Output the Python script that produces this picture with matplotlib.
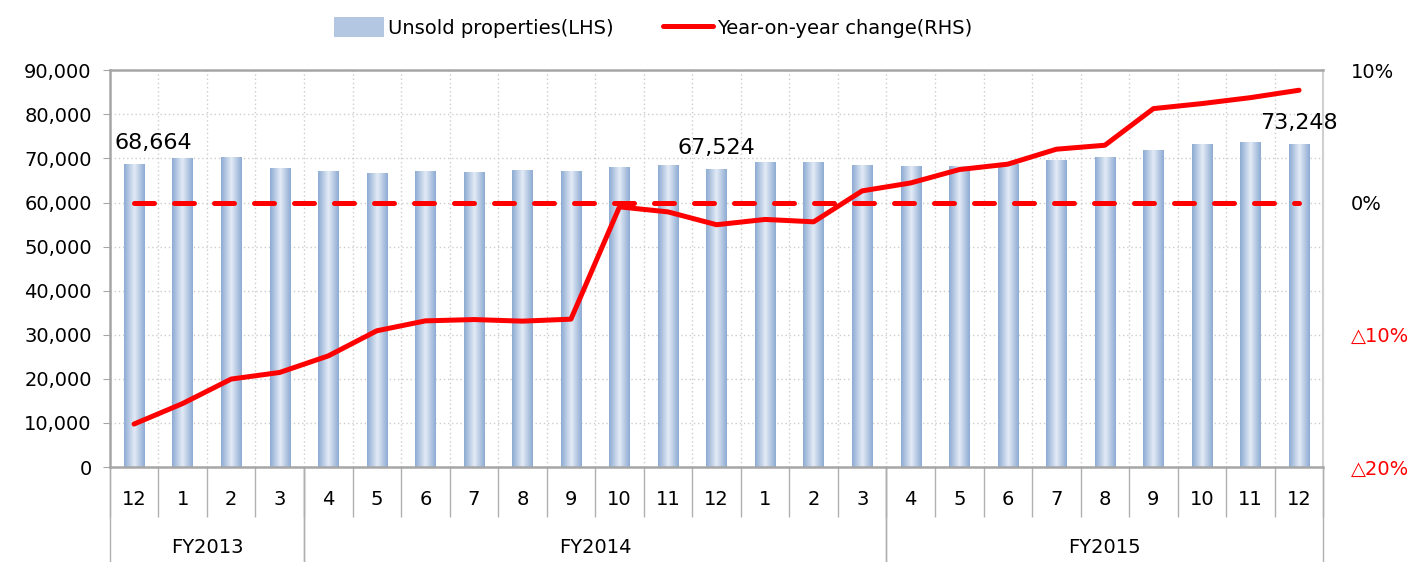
import numpy as np
import matplotlib

matplotlib.use("Agg")
import matplotlib.pyplot as plt
from matplotlib.colors import LinearSegmentedColormap
from matplotlib.lines import Line2D
from matplotlib.patches import Patch
from matplotlib.ticker import FuncFormatter
from matplotlib.transforms import blended_transform_factory

# month labels along the bottom, fiscal-year groups (label, first idx, end idx)
months = ["12", "1", "2", "3", "4", "5", "6", "7", "8", "9", "10", "11", "12",
          "1", "2", "3", "4", "5", "6", "7", "8", "9", "10", "11", "12"]
groups = [("FY2013", 0, 4), ("FY2014", 4, 16), ("FY2015", 16, 25)]

# unsold properties (LHS) and year-on-year change in % (RHS)
units = [68664, 70050, 70280, 67780, 67100, 66650, 67100, 66880, 67330, 67100,
         68000, 68460, 67524, 69140, 69140, 68460, 68230, 68230, 68690, 69600,
         70280, 71870, 73220, 73680, 73248]
yoy = [-16.75, -15.2, -13.35, -12.85, -11.6, -9.7, -8.95, -8.85, -8.97, -8.82,
       -0.33, -0.71, -1.68, -1.28, -1.46, 0.88, 1.48, 2.49, 2.9, 4.03,
       4.33, 7.1, 7.48, 7.93, 8.49]
labelled = [0, 12, 24]

GRAY = "#a6a6a6"
RED = "#ff0000"

plt.rcParams["font.family"] = ["DejaVu Sans"]

fig = plt.figure(figsize=(14.26, 5.62), dpi=100)
ax = fig.add_axes([0.077, 0.169, 0.851, 0.706])

x = np.arange(len(units))
bars = ax.bar(x, units, width=0.42, color="none", zorder=2)

# horizontal gradient fill for every bar (darker edges, light centre)
cmap = LinearSegmentedColormap.from_list("barfill", ["#8dabd3", "#e2eaf5"])
g = np.linspace(0, 1, 64)
grad = (1 - np.abs(2 * g - 1))[np.newaxis, :]
for b in bars:
    x0, w, h = b.get_x(), b.get_width(), b.get_height()
    ax.imshow(grad, cmap=cmap, aspect="auto", extent=(x0, x0 + w, 0, h),
              zorder=2, interpolation="bilinear")

ax.set_xlim(-0.5, len(units) - 0.5)
ax.set_ylim(0, 90000)
ax.set_yticks(np.arange(0, 90001, 10000))
ax.yaxis.set_major_formatter(FuncFormatter(lambda v, p: f"{int(v):,}"))
ax.tick_params(axis="y", labelsize=14, length=5, color=GRAY, pad=8,
               right=True, direction="out")

# category boundaries: ticks run down into the label table
ax.set_xticks(np.arange(-0.5, len(units), 1))
ax.set_xticklabels([])
ax.tick_params(axis="x", length=36, color="#b0b0b0", width=1)

ax.grid(True, color="#cccccc", linestyle=(0, (1, 2)), linewidth=1, zorder=0)
ax.set_axisbelow(True)

for side in ["left", "bottom", "top"]:
    ax.spines[side].set_color(GRAY)
    ax.spines[side].set_linewidth(1.8)
ax.spines["right"].set_color("#d0d0d0")
ax.spines["right"].set_linewidth(1.5)

trans = blended_transform_factory(ax.transData, ax.transAxes)
for i, m in enumerate(months):
    ax.text(i, -0.083, m, transform=trans, ha="center", va="center",
            fontsize=14)
for name, a, b in groups:
    ax.text((a + b - 1) / 2, -0.204, name, transform=trans, ha="center",
            va="center", fontsize=14)
    for edge in (a - 0.5, b - 0.5):
        ax.add_line(Line2D([edge, edge], [0, -0.24], transform=trans,
                           color="#b0b0b0", lw=1, clip_on=False))

for i in labelled:
    dx = 14 if i == 0 else 0
    ax.annotate(f"{units[i]:,}", (i, units[i]), xytext=(dx, 8),
                textcoords="offset points", ha="center", va="bottom",
                fontsize=16)

ax2 = ax.twinx()
ax2.set_ylim(-20, 10)
ax2.plot(x, np.zeros(len(x)), color=RED, lw=3.6, dashes=(4, 4),
         dash_capstyle="round")
ax2.plot(x, yoy, color=RED, lw=3.6, solid_joinstyle="round",
         solid_capstyle="round")
ax2.set_yticks([-20, -10, 0, 10])
ax2.set_yticklabels(["\u25b320%", "\u25b310%", "0%", "10%"])
ax2.tick_params(axis="y", labelsize=14, length=0, pad=20)
for lab, col in zip(ax2.get_yticklabels(), [RED, RED, "black", "black"]):
    lab.set_color(col)
for s in ax2.spines.values():
    s.set_visible(False)

handles = [Patch(facecolor="#b3c7e3", edgecolor="none"),
           Line2D([], [], color=RED, lw=3.6, solid_capstyle="round")]
fig.legend(handles, ["Unsold properties(LHS)", "Year-on-year change(RHS)"],
           loc="upper center", bbox_to_anchor=(0.458, 1.0), ncol=2,
           frameon=False, fontsize=14, handlelength=2.6, handleheight=1.2,
           handletextpad=0.2, columnspacing=2.5)

fig.savefig("out.png", dpi=100)
